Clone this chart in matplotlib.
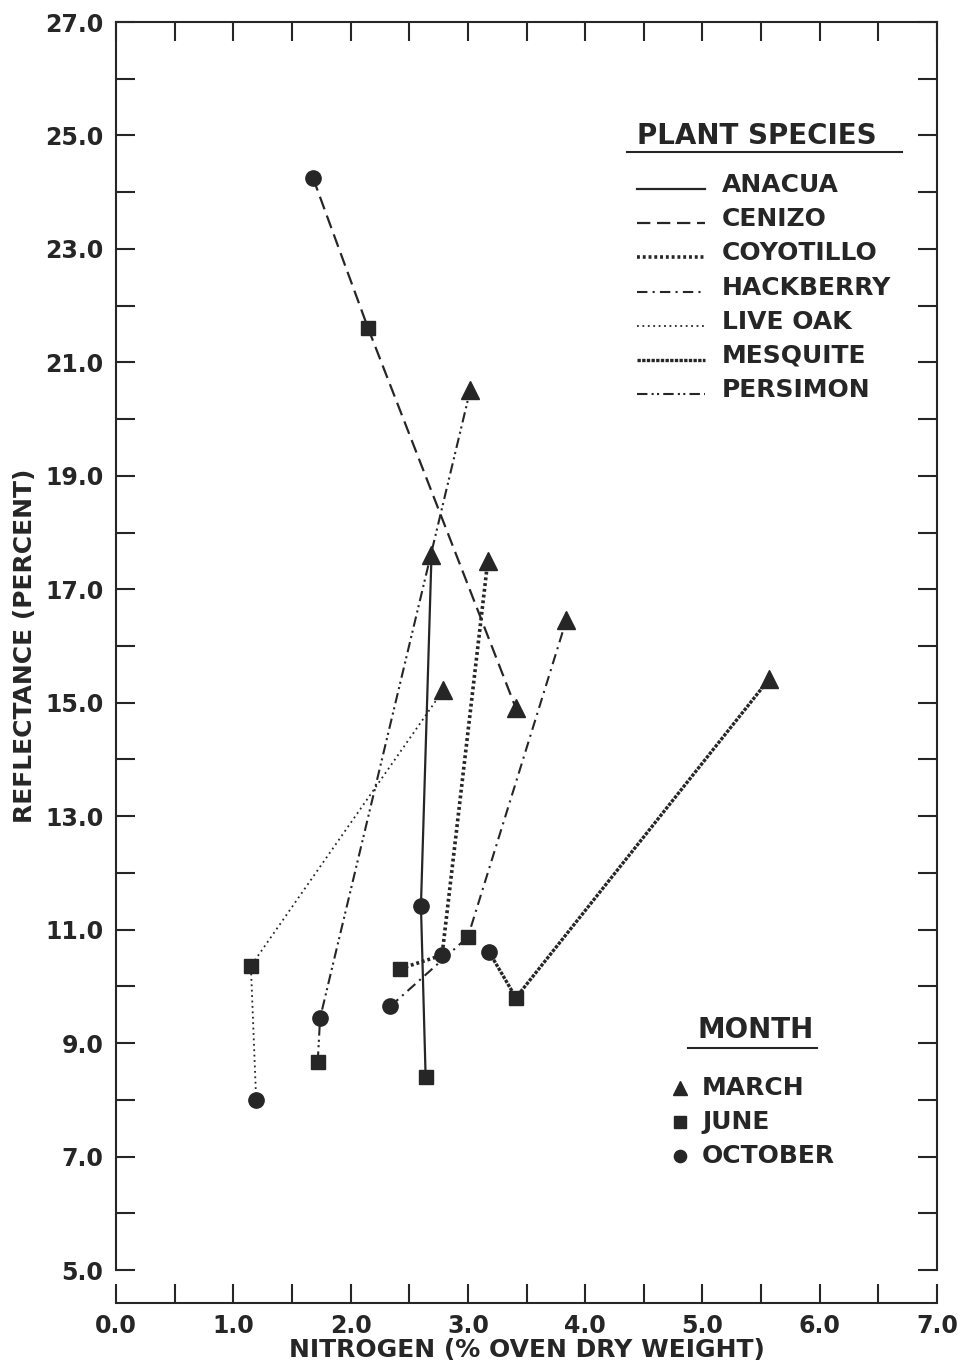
import matplotlib
matplotlib.use('Agg')
import matplotlib.pyplot as plt
from matplotlib.lines import Line2D
from matplotlib.ticker import MultipleLocator, FixedLocator, FormatStrFormatter

plt.rcParams['font.family'] = ['DejaVu Sans']
plt.rcParams['font.weight'] = 'bold'

INK = '#262626'

# species (legend order)
species = ['ANACUA', 'CENIZO', 'COYOTILLO', 'HACKBERRY', 'LIVE OAK', 'MESQUITE', 'PERSIMON']

# nitrogen (% oven dry weight) and reflectance (%) per month
march_n = [2.69, 3.41, 3.17, 3.84, 2.79, 5.57, 3.02]
march_r = [17.6, 14.9, 17.5, 16.46, 15.22, 15.42, 20.51]
june_n = [2.64, 2.15, 2.42, 3.00, 1.15, 3.41, 1.72]
june_r = [8.4, 21.6, 10.31, 10.87, 10.36, 9.80, 8.67]
october_n = [2.60, 1.68, 2.78, 2.34, 1.195, 3.18, 1.74]
october_r = [11.42, 24.25, 10.55, 9.65, 8.00, 10.61, 9.44]

# order in which each species' points are joined (J=june, O=october, M=march)
join_order = ['JOM', 'OJM', 'JOM', 'OJM', 'OJM', 'OJM', 'JOM']

months = ['MARCH', 'JUNE', 'OCTOBER']

styles = {
    'ANACUA': dict(ls='-', lw=1.6),
    'CENIZO': dict(ls=(0, (6, 3)), lw=1.6),
    'COYOTILLO': dict(ls=(0, (0.8, 0.8)), lw=2.6),
    'HACKBERRY': dict(ls=(0, (5, 2.5, 1, 2.5)), lw=1.5),
    'LIVE OAK': dict(ls=(0, (1, 2.0)), lw=1.3),
    'MESQUITE': dict(ls=(0, (1, 0.4)), lw=2.4),
    'PERSIMON': dict(ls=(0, (5, 2, 1, 1.6, 1, 2)), lw=1.5),
}
markers = {'M': ('^', 13), 'J': ('s', 10), 'O': ('o', 11)}

fig = plt.figure(figsize=(9.61, 13.64), dpi=100)
ax = fig.add_axes([116/961, 94/1364, 821/961, 1248/1364])

pts = {'M': (march_n, march_r), 'J': (june_n, june_r), 'O': (october_n, october_r)}
for i, sp in enumerate(species):
    xs = [pts[m][0][i] for m in join_order[i]]
    ys = [pts[m][1][i] for m in join_order[i]]
    st = styles[sp]
    ax.plot(xs, ys, color=INK, linestyle=st['ls'], linewidth=st['lw'], zorder=2)

for key, (xv, yv) in pts.items():
    mk, ms = markers[key]
    ax.plot(xv, yv, linestyle='none', marker=mk, markersize=ms, color=INK, zorder=3)

ax.set_xlim(0, 7)
ax.set_ylim(5, 27)
ax.xaxis.set_major_locator(MultipleLocator(1.0))
ax.xaxis.set_minor_locator(MultipleLocator(0.5))
ax.yaxis.set_major_locator(FixedLocator([5, 7, 9, 11, 13, 15, 17, 19, 21, 23, 25, 27]))
ax.yaxis.set_minor_locator(MultipleLocator(1.0))
ax.xaxis.set_major_formatter(FormatStrFormatter('%.1f'))
ax.yaxis.set_major_formatter(FormatStrFormatter('%.1f'))

ax.tick_params(which='both', direction='in', length=14, width=1.5, color=INK,
               top=True, right=True, labelsize=17, labelcolor=INK)
ax.tick_params(axis='x', which='both', pad=8)
ax.tick_params(axis='y', which='both', pad=9)
for s in ax.spines.values():
    s.set_linewidth(1.5)
    s.set_color(INK)
ax.spines['bottom'].set_position(('outward', 24))

ax.set_xlabel('NITROGEN (% OVEN DRY WEIGHT)', fontsize=18, fontweight='bold', color=INK)
ax.xaxis.set_label_coords(0.5, -0.064)
ax.xaxis.label.set_va('center')
ax.set_ylabel('REFLECTANCE (PERCENT)', fontsize=18, fontweight='bold', color=INK)
ax.yaxis.set_label_coords(-0.111, 0.50)
ax.yaxis.label.set_va('center')

# legend: plant species
T = ax.transAxes
ax.text(0.6346, 0.9087, 'PLANT SPECIES', transform=T, fontsize=20, color=INK, va='center', ha='left')
ax.add_line(Line2D([0.6224, 0.9574], [0.8958, 0.8958], transform=T, color=INK, lw=1.5))
rows = [0.8694, 0.8421, 0.8149, 0.7869, 0.7596, 0.7324, 0.7051]
for sp, fy in zip(species, rows):
    st = styles[sp]
    ax.add_line(Line2D([0.6346, 0.7174], [fy - 0.003, fy - 0.003], transform=T, color=INK,
                       linestyle=st['ls'], linewidth=st['lw']))
    ax.text(0.7381, fy, sp, transform=T, fontsize=18, color=INK, va='center', ha='left')

# legend: month
ax.text(0.7077, 0.1923, 'MONTH', transform=T, fontsize=20, color=INK, va='center', ha='left')
ax.add_line(Line2D([0.6967, 0.8538], [0.1779, 0.1779], transform=T, color=INK, lw=1.5))
for m, key, fy in zip(months, ['M', 'J', 'O'], [0.1458, 0.1186, 0.0913]):
    mk, ms = markers[key]
    ax.add_line(Line2D([0.687], [fy], transform=T, linestyle='none', marker=mk,
                       markersize=ms * 0.8, color=INK))
    ax.text(0.7138, fy, m, transform=T, fontsize=18, color=INK, va='center', ha='left')

fig.savefig('out.png', dpi=100, facecolor='white')
